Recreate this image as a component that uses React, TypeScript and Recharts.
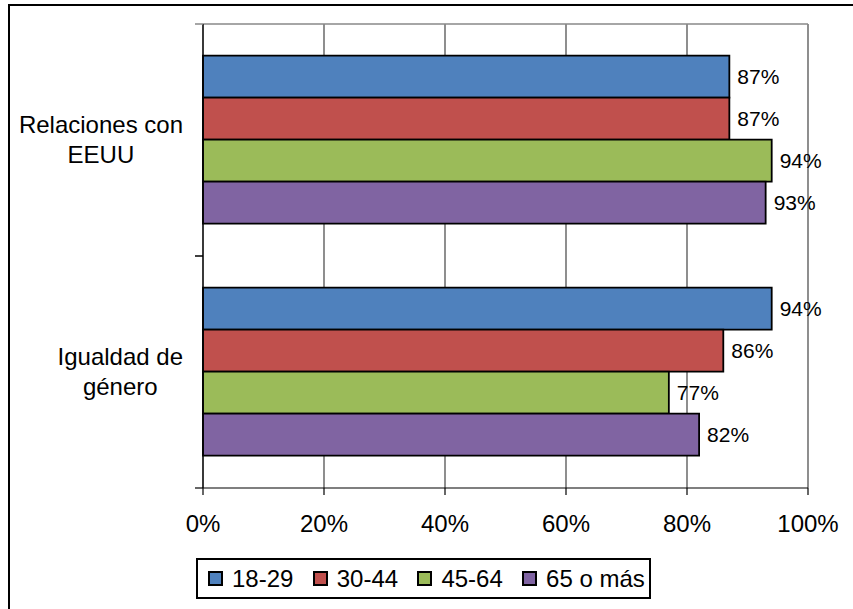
import React, { useLayoutEffect } from 'react';
import { BarChart, Bar, XAxis, YAxis, CartesianGrid, Legend, LabelList } from 'recharts';

const categories = ['Relaciones con EEUU', 'Igualdad de género'];
const categoryLines = [
  ['Relaciones con', 'EEUU'],
  ['Igualdad de', 'género'],
];
const seriesNames = ['18-29', '30-44', '45-64', '65 o más'];
const seriesColors = ['#4F81BD', '#C0504D', '#9BBB59', '#8064A2'];
const values1829 = [87, 94];
const values3044 = [87, 86];
const values4564 = [94, 77];
const values65 = [93, 82];
const xTicks = [0, 20, 40, 60, 80, 100];

const seriesValues = [values1829, values3044, values4564, values65];
const data = categories.map((c, i) => {
  const row: any = { category: c };
  seriesNames.forEach((_s, j) => {
    row['s' + j] = seriesValues[j][i];
  });
  return row;
});

const FONT = "'Liberation Sans', Arial, Helvetica, sans-serif";
let ctx: CanvasRenderingContext2D | null = null;
function textWidth(t: string, size: number) {
  if (!ctx) ctx = document.createElement('canvas').getContext('2d');
  if (!ctx) return t.length * size * 0.5;
  ctx.font = `${size}px ${FONT}`;
  return ctx.measureText(t).width;
}

const CategoryTick = (props: any) => {
  const { x, y, payload, index } = props;
  const half = payload && typeof payload.offset === 'number' && payload.offset > 0 ? payload.offset : 116;
  const axisX = x + 20;
  const idx = categories.indexOf(payload.value);
  const lines = categoryLines[idx] ?? [String(payload.value)];
  const blockW = Math.max(...lines.map((l) => textWidth(l, 24)));
  const cx = x - blockW / 2;
  return (
    <g>
      <line x1={axisX - 8} x2={axisX} y1={y - half} y2={y - half} stroke={index === 0 ? '#888' : '#000'} strokeWidth={1.5} />
      {index === categories.length - 1 && (
        <line x1={axisX - 8} x2={axisX} y1={y + half} y2={y + half} stroke="#000" strokeWidth={1.2} />
      )}
      <text textAnchor="middle" fontSize={24} fill="#000" fontFamily={FONT}>
        {lines.map((l, i) => (
          <tspan key={i} x={cx} y={y - 7 + i * 30}>
            {l}
          </tspan>
        ))}
      </text>
    </g>
  );
};

const LegendContent = (props: any) => {
  const items: any[] = props.payload ?? [];
  return (
    <div
      style={{
        boxSizing: 'border-box',
        width: 455,
        height: 41,
        border: '2px solid #000',
        display: 'flex',
        alignItems: 'center',
        paddingLeft: 10,
        background: '#fff',
        fontFamily: FONT,
        fontSize: 24,
        color: '#000',
        whiteSpace: 'nowrap',
      }}
    >
      {items.map((it, i) => {
        const k = seriesNames.indexOf(it.value);
        return (
          <div
            key={i}
            style={{ display: 'flex', alignItems: 'center', width: i < items.length - 1 ? 104.7 : undefined }}
          >
            <span
              style={{
                display: 'inline-block',
                boxSizing: 'border-box',
                width: 15,
                height: 15,
                border: '2px solid #000',
                background: k >= 0 ? seriesColors[k] : it.color,
                marginRight: 9,
              }}
            />
            <span>{it.value}</span>
          </div>
        );
      })}
    </div>
  );
};

export default function App() {
  useLayoutEffect(() => {
    document.body.style.margin = '0';
    document.body.style.overflow = 'hidden';
  }, []);
  return (
    <div style={{ position: 'relative', width: 853, height: 609, overflow: 'hidden', background: '#fff', fontFamily: FONT }}>
      <div
        style={{
          position: 'absolute',
          left: 8,
          top: 4,
          width: 845,
          height: 605,
          boxSizing: 'border-box',
          borderLeft: '2px solid #000',
          borderTop: '2px solid #000',
        }}
      />
      <div style={{ position: 'absolute', left: 10, top: 6 }}>
        <BarChart
          width={843}
          height={595}
          data={data}
          layout="vertical"
          margin={{ top: 17, right: 45, left: 0, bottom: 53 }}
          barCategoryGap="13.6%"
          barGap={0}
        >
          <CartesianGrid horizontal={false} stroke="#444" strokeWidth={1.2} />
          <XAxis
            xAxisId="top"
            orientation="top"
            type="number"
            domain={[0, 100]}
            height={1}
            tick={false}
            tickLine={false}
            axisLine={{ stroke: '#888', strokeWidth: 1.5 }}
          />
          <XAxis
            type="number"
            domain={[0, 100]}
            ticks={xTicks}
            interval={0}
            tickFormatter={(v: number) => `${v}%`}
            tickSize={7}
            tickMargin={20}
            height={60}
            axisLine={{ stroke: '#000', strokeWidth: 1.2 }}
            tickLine={{ stroke: '#000', strokeWidth: 1.2 }}
            tick={{ fill: '#000', fontSize: 24, fontFamily: FONT }}
          />
          <YAxis
            type="category"
            dataKey="category"
            width={193}
            interval={0}
            tickLine={false}
            tickSize={0}
            tickMargin={20}
            axisLine={{ stroke: '#000', strokeWidth: 1.2 }}
            tick={<CategoryTick />}
          />
          {seriesNames.map((n, j) => (
            <Bar
              key={n}
              dataKey={'s' + j}
              name={n}
              fill={seriesColors[j]}
              stroke="#000"
              strokeWidth={1.8}
              isAnimationActive={false}
            >
              <LabelList
                dataKey={'s' + j}
                position="right"
                offset={8}
                formatter={(v: any) => `${v}%`}
                fill="#000"
                fontSize={21}
                fontFamily={FONT}
              />
            </Bar>
          ))}
          <Legend
            layout="vertical"
            align="center"
            verticalAlign="middle"
            wrapperStyle={{ left: 186, top: 552, width: 455, height: 41 }}
            content={LegendContent}
          />
        </BarChart>
      </div>
    </div>
  );
}
